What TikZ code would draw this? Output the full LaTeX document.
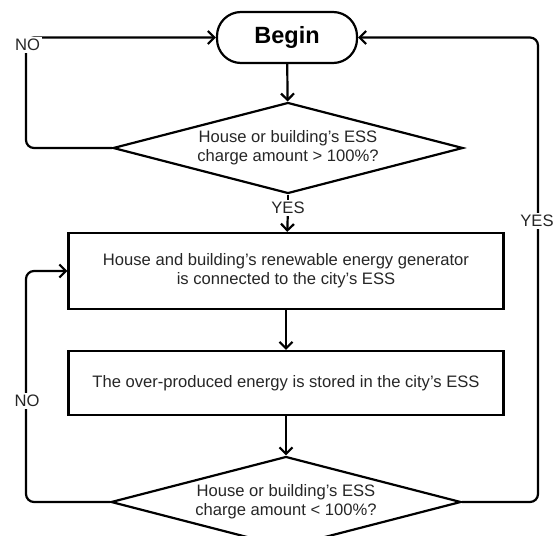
\documentclass[tikz,border=0pt]{standalone}
\usepackage{fontspec}
\setmainfont{Liberation Sans}
\usepackage{tikz}
\usetikzlibrary{arrows.meta,shapes.geometric}
\tikzset{
	flowline/.style={line width=2.2pt, rounded corners=8pt},
	flowarrow/.style={flowline, -{Straight Barb[length=6.5pt,width=13pt,line width=2.2pt]}},
	flowtext/.style={font=\fontsize{16.6}{19}\selectfont, text=black!85, align=center},
	terminal/.style={draw, line width=2.2pt, rounded corners=24pt, minimum width=140pt, minimum height=51pt, font=\fontsize{23.5}{25}\selectfont\bfseries},
	process/.style={draw, line width=2.2pt, flowtext, minimum width=435pt},
	decision/.style={draw, line width=2.2pt, flowtext, diamond, aspect=3.8, inner sep=0pt, minimum width=350pt, minimum height=91pt},
	looplabel/.style={flowtext, fill=white, inner sep=2pt}
}

\begin{document}
\begin{tikzpicture}[x=1pt, y=-1pt]
			%%%%% START %%%%%
			\useasboundingbox (0, 0) rectangle (553, 535);
			
			\node[terminal] (begin) at (287, 37.5) {Begin};
			\node[decision] (chkfull) at (288, 148) {House or building's ESS\\charge amount > 100\%?};
			\node[process, minimum height=76pt] (connect) at (286, 271) {House and building's renewable energy generator\\is connected to the city's ESS};
			\node[process, minimum height=64pt] (store) at (286, 383) {The over-produced energy is stored in the city's ESS};
			\node[decision] (chklow) at (286, 502) {House or building's ESS\\charge amount < 100\%?};
			
			\node[looplabel] (yesdown) at (288, 208) {YES};
			
			\coordinate (topleft) at (26, 37.5);
			\coordinate (midleft) at (26, 271);
			\coordinate (topright) at (538, 37.5);
			
			\draw[flowarrow] (begin) -- (chkfull);
			\draw[flowline] (chkfull) -- (yesdown);
			\draw[flowarrow] (yesdown) -- (connect);
			\draw[flowarrow] (connect) -- (store);
			\draw[flowarrow] (store) -- (chklow);
			
			\draw[flowarrow] (chkfull.west) -| (topleft) -- (begin.west);
			\draw[flowarrow] (chklow.west) -| (midleft) -- (connect.west);
			\draw[flowarrow] (chklow.east) -| (topright) -- (begin.east);
			
			% labels on the loops
			\node[looplabel] (nofull) at (27.5, 45) {NO};
			\node[looplabel] (nolow) at (27, 401) {NO};
			\node[looplabel] (yesup) at (537, 221) {YES};
			%%%%% END %%%%%
\end{tikzpicture}
\end{document}
